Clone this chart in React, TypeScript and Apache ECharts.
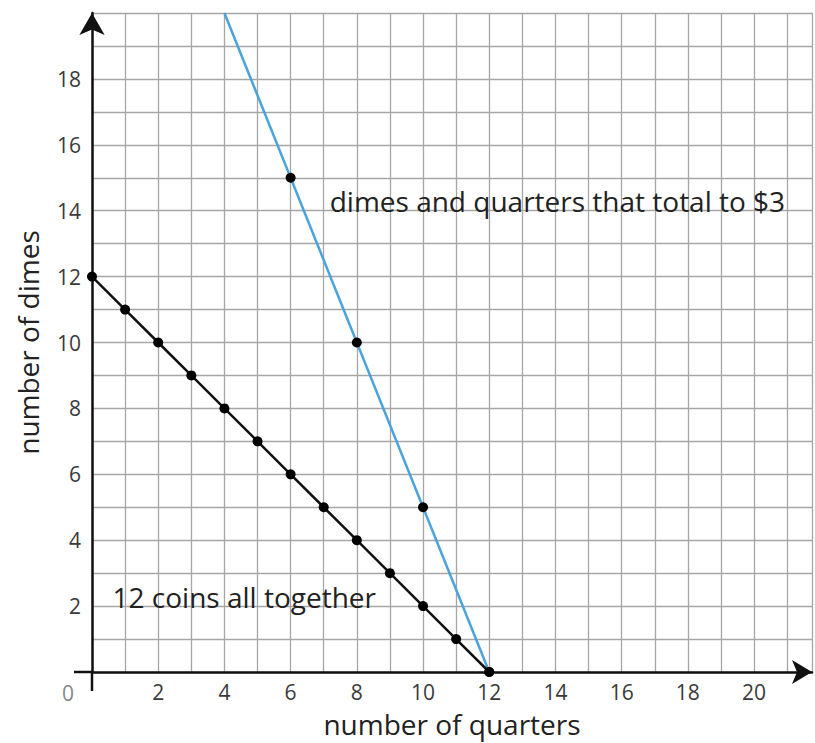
import React, { useEffect, useRef } from "react";
import * as echarts from "echarts";

// 12 coins all together: quarters (x) vs dimes (y)
const coinsQuarters = [0, 1, 2, 3, 4, 5, 6, 7, 8, 9, 10, 11, 12];
const coinsDimes = [12, 11, 10, 9, 8, 7, 6, 5, 4, 3, 2, 1, 0];

// dimes and quarters that total to $3
const moneyLineQuarters = [4, 12];
const moneyLineDimes = [20, 0];
const moneyDotQuarters = [6, 8, 10, 12];
const moneyDotDimes = [15, 10, 5, 0];

const xTickLabels = [2, 4, 6, 8, 10, 12, 14, 16, 18, 20];
const yTickLabels = [2, 4, 6, 8, 10, 12, 14, 16, 18];

const xName = "number of quarters";
const yName = "number of dimes";
const moneyNote = "dimes and quarters that total to $3";
const coinsNote = "12 coins all together";
const moneyNoteAt = [7.18, 14.3];
const coinsNoteAt = [0.62, 2.27];

const FONT = "'Open Sans', sans-serif";

export default function App() {
  const ref = useRef<HTMLDivElement>(null);
  useEffect(() => {
    if (!ref.current) return;
    const chart = echarts.init(ref.current, null, { renderer: "svg" });
    const pairs = (xs: number[], ys: number[]) => xs.map((x, i) => [x, ys[i]]);
    chart.setOption({
      animation: false,
      backgroundColor: "#ffffff",
      grid: { left: 92, right: 3, top: 13, bottom: 58, containLabel: false },
      xAxis: {
        type: "value",
        min: 0,
        max: 21.75,
        interval: 1,
        name: xName,
        nameLocation: "middle",
        nameGap: 38,
        nameTextStyle: { fontFamily: FONT, fontSize: 28, color: "#222" },
        axisLine: {
          show: true,
          onZero: false,
          symbol: ["none", "arrow"],
          symbolSize: [18, 20],
          lineStyle: { color: "#111", width: 2.5 },
        },
        axisTick: { show: false },
        axisLabel: {
          fontFamily: FONT,
          fontSize: 21,
          color: "#3a3a3a",
          margin: 9,
          showMaxLabel: false,
          formatter: (v: number) => (xTickLabels.includes(v) ? String(v) : ""),
        },
        splitLine: { show: true, lineStyle: { color: "#a6a6a6", width: 1.3 } },
      },
      yAxis: {
        type: "value",
        min: 0,
        max: 20,
        interval: 1,
        name: yName,
        nameLocation: "middle",
        nameGap: 50,
        nameRotate: 90,
        nameTextStyle: { fontFamily: FONT, fontSize: 28, color: "#222" },
        axisLine: {
          show: true,
          onZero: false,
          symbol: ["none", "arrow"],
          symbolSize: [19, 22],
          lineStyle: { color: "#111", width: 2.5 },
        },
        axisTick: { show: false },
        axisLabel: {
          fontFamily: FONT,
          fontSize: 21,
          color: "#3a3a3a",
          margin: 11,
          formatter: (v: number) => (yTickLabels.includes(v) ? String(v) : ""),
        },
        splitLine: { show: true, lineStyle: { color: "#a6a6a6", width: 1.3 } },
      },
      series: [
        {
          type: "line",
          data: pairs(moneyLineQuarters, moneyLineDimes),
          showSymbol: false,
          lineStyle: { color: "#4ba3dd", width: 2.5 },
          z: 3,
        },
        {
          type: "scatter",
          data: pairs(moneyDotQuarters, moneyDotDimes),
          symbolSize: 10,
          itemStyle: { color: "#000", opacity: 1 },
          z: 5,
        },
        {
          type: "line",
          data: pairs(coinsQuarters, coinsDimes),
          symbol: "circle",
          symbolSize: 10,
          showAllSymbol: true,
          lineStyle: { color: "#111", width: 2.5 },
          itemStyle: { color: "#000" },
          z: 4,
        },
      ],
    });

    const origin = chart.convertToPixel({ gridIndex: 0 }, [0, 0]) as number[];
    const mn = chart.convertToPixel({ gridIndex: 0 }, moneyNoteAt) as number[];
    const cn = chart.convertToPixel({ gridIndex: 0 }, coinsNoteAt) as number[];
    chart.setOption({
      graphic: [
        {
          type: "line",
          shape: { x1: origin[0] - 18, y1: origin[1], x2: origin[0], y2: origin[1] },
          style: { stroke: "#111", lineWidth: 2.5 },
          z: 10,
        },
        {
          type: "line",
          shape: { x1: origin[0], y1: origin[1], x2: origin[0], y2: origin[1] + 19 },
          style: { stroke: "#111", lineWidth: 2.5 },
          z: 10,
        },
        {
          type: "text",
          x: origin[0] - 24,
          y: origin[1] + 21,
          style: { text: "0", font: `21px ${FONT}`, fill: "#888", textAlign: "center", textVerticalAlign: "middle" },
        },
        {
          type: "text",
          x: mn[0],
          y: mn[1],
          style: { text: moneyNote, font: `28px ${FONT}`, fill: "#222", textAlign: "left", textVerticalAlign: "middle" },
          z: 6,
        },
        {
          type: "text",
          x: cn[0],
          y: cn[1],
          style: { text: coinsNote, font: `28px ${FONT}`, fill: "#222", textAlign: "left", textVerticalAlign: "middle" },
          z: 6,
        },
      ],
    });
    return () => chart.dispose();
  }, []);
  return <div ref={ref} style={{ width: 815, height: 743, position: "absolute", left: 0, top: 0 }} />;
}
